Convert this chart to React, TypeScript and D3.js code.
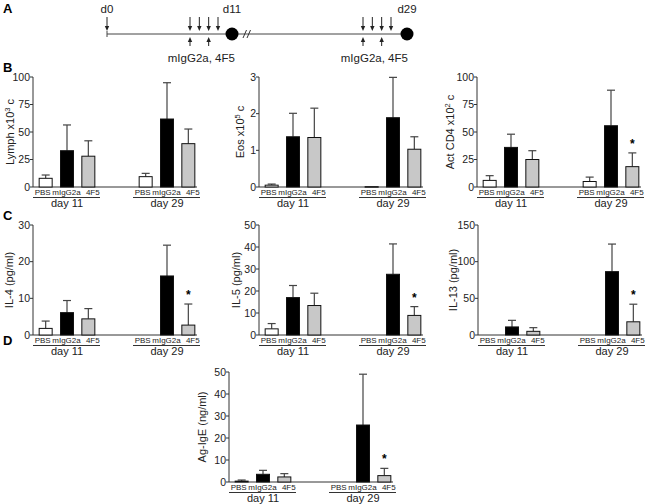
import React from "react";
import * as d3 from "d3";

// ---------- DATA ----------
const treatments = ["PBS", "mIgG2a", "4F5"];
const dayGroups = ["day 11", "day 29"];

// bar order: day11 PBS, mIgG2a, 4F5, day29 PBS, mIgG2a, 4F5
const lymphMean = [7.9, 33, 28, 9.4, 61.8, 39.4];
const lymphErr = [10.9, 56.4, 42, 12.4, 94.8, 52.7];
const eosMean = [0.05, 1.37, 1.35, 0.01, 1.89, 1.03];
const eosErr = [0.08, 2.01, 2.15, 0.01, 2.99, 1.37];
const cd4Mean = [6, 36, 25, 5, 55.7, 18.5];
const cd4Err = [10.3, 48, 33, 9, 88, 31];
const il4Mean = [1.8, 6.1, 4.4, 0, 16.1, 2.7];
const il4Err = [3.8, 9.4, 7.2, 0, 24.5, 8.45];
const il5Mean = [2.8, 17, 13.4, 0, 27.6, 8.9];
const il5Err = [5.2, 22.5, 19, 0, 41.4, 12.9];
const il13Mean = [0, 11, 5, 0, 86.4, 18];
const il13Err = [0, 20, 10, 0, 124, 42];
const igeMean = [0.4, 3.5, 2.3, 0, 25.9, 2.9];
const igeErr = [0.9, 5.3, 3.8, 0, 49, 6.2];
const starBars = [5];

const lymphTicks = [0, 25, 50, 75, 100];
const eosTicks = [0, 1, 2, 3];
const cd4Ticks = [0, 25, 50, 75, 100];
const il4Ticks = [0, 10, 20, 30];
const il5Ticks = [0, 10, 20, 30, 40, 50];
const il13Ticks = [0, 50, 100, 150];
const igeTicks = [0, 10, 20, 30, 40, 50];

// timeline (panel A)
const timelineDays = [0, 7, 10, 11, 25, 28, 29];
const injectionDays = [7, 8, 9, 10, 25, 26, 27, 28];
const antibodyDays = [7, 9, 25, 27];
const antibodyLabelDays = [8, 26];
const endpointDays = [0, 11, 29];
const endpointLabels = ["d0", "d11", "d29"];
const antibodyLabel = "mIgG2a, 4F5";

// ---------- STYLE / LAYOUT ----------
const W = 649;
const H = 504;
const FONT = "'Liberation Sans', Arial, Helvetica, sans-serif";
const fills = ["#ffffff", "#000000", "#c8c8c8"];
const PLOT_H = 110;
const PLOT_W = 164;
const BAR_W = 13;

type Sup = { pre: string; sup?: string; post?: string };

type Panel = {
  mean: number[];
  err: number[];
  ticks: number[];
  label: Sup;
  x0: number;
  yBase: number;
  labelX: number;
  star: boolean;
};

const panels: Panel[] = [
  { mean: lymphMean, err: lymphErr, ticks: lymphTicks, label: { pre: "Lymph x10", sup: "3", post: " c" }, x0: 33, yBase: 187, labelX: 13.5, star: false },
  { mean: eosMean, err: eosErr, ticks: eosTicks, label: { pre: "Eos x10", sup: "5", post: " c" }, x0: 259, yBase: 187, labelX: 243.5, star: false },
  { mean: cd4Mean, err: cd4Err, ticks: cd4Ticks, label: { pre: "Act CD4 x10", sup: "2", post: " c" }, x0: 477, yBase: 187, labelX: 454, star: true },
  { mean: il4Mean, err: il4Err, ticks: il4Ticks, label: { pre: "IL-4 (pg/ml)" }, x0: 33, yBase: 335, labelX: 13, star: true },
  { mean: il5Mean, err: il5Err, ticks: il5Ticks, label: { pre: "IL-5 (pg/ml)" }, x0: 259, yBase: 335, labelX: 240, star: true },
  { mean: il13Mean, err: il13Err, ticks: il13Ticks, label: { pre: "IL-13 (pg/ml)" }, x0: 478, yBase: 335, labelX: 457, star: true },
  { mean: igeMean, err: igeErr, ticks: igeTicks, label: { pre: "Ag-IgE (ng/ml)" }, x0: 229, yBase: 482, labelX: 206, star: true },
];

const panelLetters = [
  { t: "A", x: 3, y: 13 },
  { t: "B", x: 3, y: 72 },
  { t: "C", x: 3, y: 220 },
  { t: "D", x: 3, y: 345 },
];

const labelDx = [-3, -0.5, 4.5];

function BarPanel({ p }: { p: Panel }) {
  const maxV = p.ticks[p.ticks.length - 1];
  const y = d3.scaleLinear().domain([0, maxV]).range([p.yBase, p.yBase - PLOT_H]);
  const outer = d3
    .scaleBand<string>()
    .domain(dayGroups)
    .range([p.x0 + 2, p.x0 + PLOT_W + 2])
    .paddingInner(0.36);
  const inner = d3.scaleBand<string>().domain(treatments).range([0, outer.bandwidth()]);
  const cx = (i: number) => {
    const g = dayGroups[Math.floor(i / 3)];
    const t = treatments[i % 3];
    return (outer(g) as number) + (inner(t) as number) + inner.bandwidth() / 2;
  };
  const midY = p.yBase - PLOT_H / 2;
  return (
    <g fontFamily={FONT}>
      {/* axes */}
      <line x1={p.x0} x2={p.x0} y1={p.yBase} y2={y(maxV)} stroke="#333" strokeWidth={1} />
      <line x1={p.x0} x2={p.x0 + PLOT_W} y1={p.yBase} y2={p.yBase} stroke="#333" strokeWidth={1} />
      {p.ticks.map((t) => (
        <g key={t}>
          <line x1={p.x0 - 3} x2={p.x0} y1={y(t)} y2={y(t)} stroke="#333" />
          <text x={p.x0 - 3} y={y(t) + 3.8} fontSize={10.5} textAnchor="end" fill="#222">
            {t}
          </text>
        </g>
      ))}
      {/* y label */}
      <text
        transform={`translate(${p.labelX},${midY}) rotate(-90)`}
        fontSize={11}
        textAnchor="middle"
        fill="#222"
      >
        {p.label.pre}
        {p.label.sup && (
          <tspan dy={-4} fontSize={7.5}>
            {p.label.sup}
          </tspan>
        )}
        {p.label.post && <tspan dy={4}>{p.label.post}</tspan>}
      </text>
      {/* bars */}
      {p.mean.map((m, i) => {
        const x = cx(i);
        const top = y(m);
        const et = y(p.err[i]);
        return (
          <g key={i}>
            {p.err[i] > m && (
              <>
                <line x1={x} x2={x} y1={top} y2={et} stroke="#444" strokeWidth={1.2} />
                <line x1={x - 4} x2={x + 4} y1={et} y2={et} stroke="#444" strokeWidth={1.2} />
              </>
            )}
            {m > 0 && (
              <rect
                x={x - BAR_W / 2}
                y={top}
                width={BAR_W}
                height={Math.max(p.yBase - top, 0.6)}
                fill={fills[i % 3]}
                stroke="#111"
                strokeWidth={1}
              />
            )}
          </g>
        );
      })}
      {p.star &&
        starBars.map((i) => (
          <text key={"s" + i} x={cx(i)} y={y(p.err[i]) - 5} fontSize={12} textAnchor="middle" fontWeight="bold">
            *
          </text>
        ))}
      {/* x labels */}
      {dayGroups.map((g, gi) => {
        const gx = outer(g) as number;
        return (
          <g key={g}>
            {treatments.map((t, ti) => (
              <text
                key={t}
                x={cx(gi * 3 + ti) + labelDx[ti]}
                y={p.yBase + 8}
                fontSize={8}
                textAnchor="middle"
                fill="#222"
              >
                {t}
              </text>
            ))}
            <line
              x1={gx - 2}
              x2={gx + outer.bandwidth() + 1}
              y1={p.yBase + 10.5}
              y2={p.yBase + 10.5}
              stroke="#333"
            />
            <text x={gx + outer.bandwidth() / 2} y={p.yBase + 20} fontSize={11} textAnchor="middle" fill="#222">
              {g}
            </text>
          </g>
        );
      })}
    </g>
  );
}

function Timeline() {
  const tx = d3.scaleLinear().domain(timelineDays).range([107, 190, 218, 232, 363, 391, 407]);
  const ly = 34;
  const downArrow = (x: number, key: string) => (
    <g key={key}>
      <line x1={x} x2={x} y1={17} y2={27} stroke="#222" strokeWidth={1} />
      <path d={`M${x - 2.2},${26} L${x + 2.2},${26} L${x},${31} Z`} fill="#222" />
    </g>
  );
  const upArrow = (x: number, key: string) => (
    <g key={key}>
      <line x1={x} x2={x} y1={46} y2={41} stroke="#222" strokeWidth={1} />
      <path d={`M${x - 2.2},${42} L${x + 2.2},${42} L${x},${37} Z`} fill="#222" />
    </g>
  );
  const bx = tx(11) + 13;
  return (
    <g fontFamily={FONT}>
      <line x1={tx(0)} x2={tx(29)} y1={ly} y2={ly} stroke="#444" strokeWidth={1} />
      <line x1={tx(0)} x2={tx(0)} y1={ly - 3} y2={ly + 3} stroke="#444" />
      {downArrow(tx(0), "d0")}
      {injectionDays.map((d) => downArrow(tx(d), "i" + d))}
      {antibodyDays.map((d) => upArrow(tx(d), "a" + d))}
      {[11, 29].map((d) => (
        <circle key={d} cx={tx(d)} cy={ly} r={6.5} fill="#000" />
      ))}
      <line x1={bx - 2} x2={bx + 1.5} y1={ly + 4} y2={ly - 4} stroke="#333" />
      <line x1={bx + 2} x2={bx + 5.5} y1={ly + 4} y2={ly - 4} stroke="#333" />
      {endpointDays.map((d, i) => (
        <text key={d} x={tx(d)} y={12.5} fontSize={11.5} textAnchor="middle" fill="#222">
          {endpointLabels[i]}
        </text>
      ))}
      {antibodyLabelDays.map((d) => (
        <text key={d} x={tx(d) + 2} y={62} fontSize={11.5} textAnchor="middle" fill="#222">
          {antibodyLabel}
        </text>
      ))}
    </g>
  );
}

export default function App() {
  return (
    <svg
      width={W}
      height={H}
      viewBox={`0 0 ${W} ${H}`}
      style={{ position: "absolute", left: 0, top: 0, background: "#fff" }}
    >
      <rect width={W} height={H} fill="#fff" />
      {panelLetters.map((l) => (
        <text key={l.t} x={l.x} y={l.y} fontSize={13} fontWeight="bold" fontFamily={FONT}>
          {l.t}
        </text>
      ))}
      <Timeline />
      {panels.map((p, i) => (
        <BarPanel key={i} p={p} />
      ))}
    </svg>
  );
}
